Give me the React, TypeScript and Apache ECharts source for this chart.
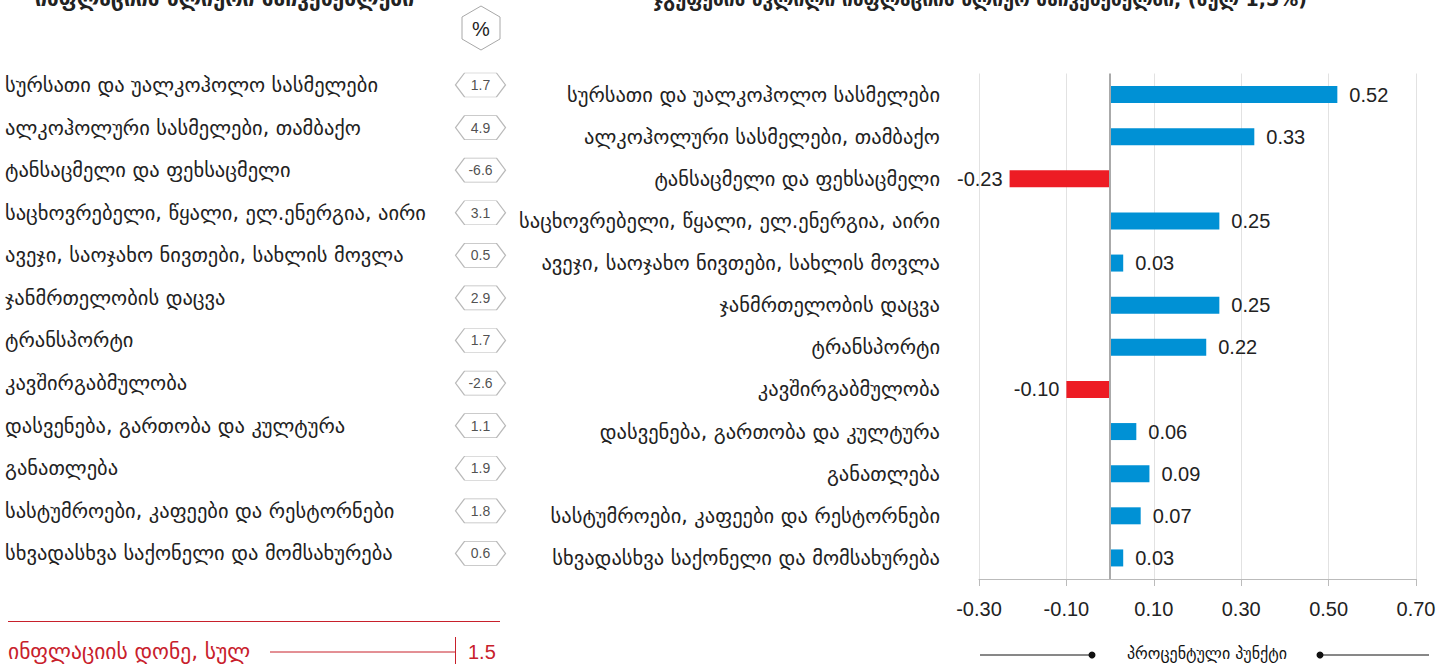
import React, { useEffect, useRef } from "react";
import * as echarts from "echarts";

const categories = [
  "სურსათი და უალკოჰოლო სასმელები",
  "ალკოჰოლური სასმელები, თამბაქო",
  "ტანსაცმელი და ფეხსაცმელი",
  "საცხოვრებელი, წყალი, ელ.ენერგია, აირი",
  "ავეჯი, საოჯახო ნივთები, სახლის მოვლა",
  "ჯანმრთელობის დაცვა",
  "ტრანსპორტი",
  "კავშირგაბმულობა",
  "დასვენება, გართობა და კულტურა",
  "განათლება",
  "სასტუმროები, კაფეები და რესტორნები",
  "სხვადასხვა საქონელი და მომსახურება",
];
const inflationByGroup = [1.7, 4.9, -6.6, 3.1, 0.5, 2.9, 1.7, -2.6, 1.1, 1.9, 1.8, 0.6];
const contribution = [0.52, 0.33, -0.23, 0.25, 0.03, 0.25, 0.22, -0.1, 0.06, 0.09, 0.07, 0.03];
const totalInflation = 1.5;
const xTicks = { min: -0.3, max: 0.7, interval: 0.2 };
const leftTitle = "ინფლაციის წლიური მაჩვენებლები";
const rightTitle = "ჯგუფების წვლილი ინფლაციის წლიურ მაჩვენებელში, (სულ 1,5%)";
const totalLabel = "ინფლაციის დონე, სულ";
const unitLabel = "პროცენტული პუნქტი";

const GEO = "'DejaVu Sans', sans-serif";
const NUM = "'Liberation Sans', Arial, sans-serif";
const BLUE = "#0091d5";
const RED = "#ed1c24";
const DARKRED = "#c8202b";

export default function App() {
  const ref = useRef<HTMLDivElement>(null);
  useEffect(() => {
    if (!ref.current) return;
    const chart = echarts.init(ref.current, undefined, { renderer: "svg" });
    const option: any = {
      animation: false,
      backgroundColor: "#fff",
      grid: [
        { left: 979, right: 37, top: 73.5, height: 505.5 },
        { left: 455, width: 51, top: 63.7, height: 511 },
      ],
      xAxis: [
        {
          gridIndex: 0,
          type: "value",
          min: xTicks.min,
          max: xTicks.max,
          interval: xTicks.interval,
          axisLine: { show: true, lineStyle: { color: "#bbb", width: 1 } },
          axisTick: { show: true, length: 7, lineStyle: { color: "#bbb" } },
          splitLine: { show: true, lineStyle: { color: "#e2e2e2", width: 1 } },
          axisLabel: {
            margin: 20,
            fontSize: 20,
            color: "#222",
            fontFamily: NUM,
            formatter: (v: number) => v.toFixed(2),
          },
        },
        { gridIndex: 1, type: "value", min: -1, max: 1, show: false },
      ],
      yAxis: [
        {
          gridIndex: 0,
          type: "category",
          inverse: true,
          data: categories,
          axisLine: { show: false, onZero: false },
          axisTick: { show: false },
          axisLabel: { margin: 39, fontSize: 20.5, color: "#222", fontFamily: GEO },
        },
        {
          gridIndex: 1,
          type: "category",
          inverse: true,
          data: categories,
          axisLine: { show: false },
          axisTick: { show: false },
          axisLabel: { margin: 450, align: "left", fontSize: 20.5, color: "#222", fontFamily: GEO },
        },
      ],
      series: [
        {
          type: "bar",
          xAxisIndex: 0,
          yAxisIndex: 0,
          barWidth: 17,
          data: contribution.map((v) => ({
            value: v,
            itemStyle: { color: v < 0 ? RED : BLUE },
            label: { position: v < 0 ? "left" : "right", distance: v < 0 ? 7 : 12 },
          })),
          label: {
            show: true,
            fontSize: 20,
            color: "#222",
            fontFamily: NUM,
            formatter: (p: any) => Number(p.value).toFixed(2),
          },
          markLine: {
            silent: true,
            symbol: "none",
            label: { show: false },
            lineStyle: { color: "#aaa", width: 2, type: "solid" },
            data: [{ xAxis: 0 }],
          },
        },
        {
          type: "scatter",
          xAxisIndex: 1,
          yAxisIndex: 1,
          symbol: "path://M0,12L9,0L41,0L50,12L41,24L9,24Z",
          symbolSize: [50, 24],
          itemStyle: { color: "#fff", borderColor: "#a8a8a8", borderWidth: 1 },
          data: inflationByGroup.map((v, i) => [0, categories[i]]),
          label: {
            show: true,
            position: "inside",
            fontSize: 14,
            color: "#222",
            fontFamily: NUM,
            formatter: (p: any) => inflationByGroup[p.dataIndex].toFixed(1),
          },
        },
      ],
      graphic: [
        {
          type: "text",
          left: 35,
          top: -12,
          style: { text: leftTitle, font: `bold 21px ${GEO}`, fill: "#222" },
        },
        {
          type: "text",
          left: 653,
          top: -11,
          style: { text: rightTitle, font: `bold 19px ${GEO}`, fill: "#222" },
        },
        {
          type: "polygon",
          shape: { points: [[481, 6], [500, 17], [500, 39], [481, 50], [462, 39], [462, 17]] },
          style: { fill: "#fff", stroke: "#a8a8a8", lineWidth: 1 },
        },
        {
          type: "text",
          x: 481,
          y: 29,
          style: { text: "%", font: `20px ${NUM}`, fill: "#222", align: "center", verticalAlign: "middle" },
        },
        {
          type: "line",
          shape: { x1: 8, y1: 621.5, x2: 500, y2: 621.5 },
          style: { stroke: DARKRED, lineWidth: 1.2 },
        },
        {
          type: "text",
          x: 8,
          y: 651,
          style: { text: totalLabel, font: `21.5px ${GEO}`, fill: DARKRED, verticalAlign: "middle" },
        },
        {
          type: "line",
          shape: { x1: 270, y1: 652, x2: 455, y2: 652 },
          style: { stroke: DARKRED, lineWidth: 1 },
        },
        {
          type: "line",
          shape: { x1: 455.5, y1: 637, x2: 455.5, y2: 664 },
          style: { stroke: DARKRED, lineWidth: 1 },
        },
        {
          type: "text",
          x: 468,
          y: 652,
          style: { text: totalInflation.toFixed(1), font: `20px ${NUM}`, fill: DARKRED, verticalAlign: "middle" },
        },
        {
          type: "line",
          shape: { x1: 980, y1: 655, x2: 1092, y2: 655 },
          style: { stroke: "#111", lineWidth: 1 },
        },
        { type: "circle", shape: { cx: 1092, cy: 655, r: 3.5 }, style: { fill: "#111" } },
        {
          type: "text",
          x: 1207,
          y: 653,
          style: { text: unitLabel, font: `16px ${GEO}`, fill: "#111", align: "center", verticalAlign: "middle" },
        },
        { type: "circle", shape: { cx: 1320, cy: 655, r: 3.5 }, style: { fill: "#111" } },
        {
          type: "line",
          shape: { x1: 1320, y1: 655, x2: 1429, y2: 655 },
          style: { stroke: "#111", lineWidth: 1 },
        },
      ],
    };
    chart.setOption(option);
    return () => chart.dispose();
  }, []);
  return (
    <div
      ref={ref}
      style={{ position: "fixed", left: 0, top: 0, width: 1453, height: 664, background: "#fff" }}
    />
  );
}
